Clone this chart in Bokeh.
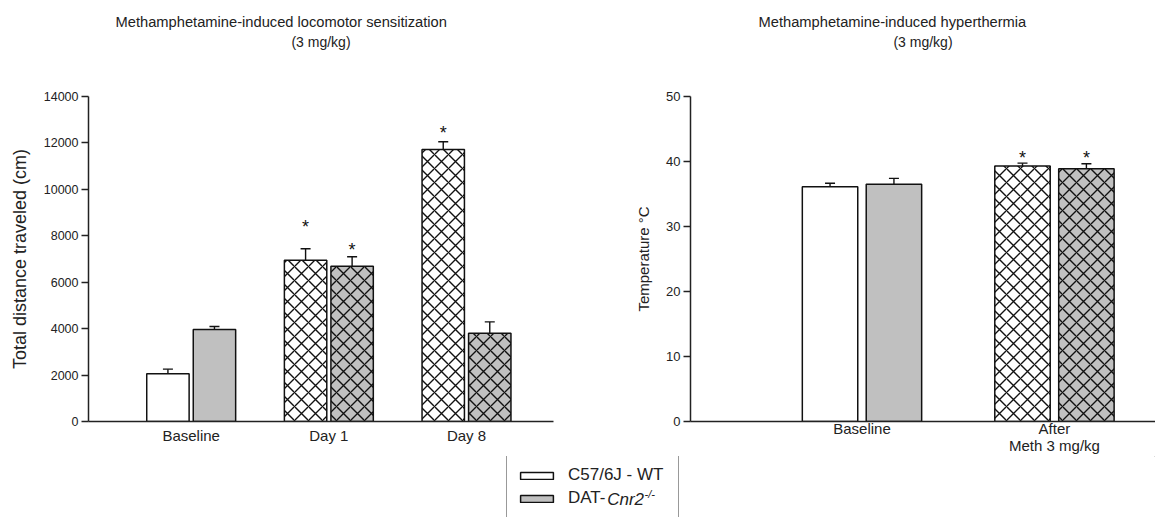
from bokeh.plotting import figure
from bokeh.models import (Range1d, FixedTicker, ColumnDataSource, Whisker, TeeHead,
                          Label, Legend, LegendItem, Title)
from bokeh.layouts import column, row
from bokeh.embed import file_html
from bokeh.resources import INLINE
from bokeh.core.properties import value

FONT = "Liberation Sans"
INK = "#222222"

# ---------------- data: locomotor sensitization ----------------
loco_categories = ["Baseline", "Day 1", "Day 8"]
loco_wt = [2060, 6950, 11720]
loco_wt_sem = [195, 490, 330]
loco_dat = [3960, 6690, 3800]
loco_dat_sem = [130, 405, 490]
loco_meth = [False, True, True]
loco_wt_star = [None, 8550, 12580]
loco_dat_star = [None, 7550, None]
loco_yticks = [0, 2000, 4000, 6000, 8000, 10000, 12000, 14000]

# ---------------- data: hyperthermia ----------------
temp_categories = ["Baseline", "After\nMeth 3 mg/kg"]
temp_wt = [36.1, 39.3]
temp_wt_sem = [0.55, 0.45]
temp_dat = [36.5, 38.9]
temp_dat_sem = [0.9, 0.75]
temp_meth = [False, True]
temp_wt_star = [None, 41.2]
temp_dat_star = [None, 41.2]
temp_yticks = [0, 10, 20, 30, 40, 50]

series_names = ["C57/6J - WT", "DAT-Cnr2-/-"]
series_fill = ["#ffffff", "#c0c0c0"]

PANEL_H = 456


def style_axes(p, tick_font, xlabel_font):
    for ax in p.yaxis:
        ax.major_tick_out = 7
        ax.major_tick_in = 0
        ax.minor_tick_out = 0
        ax.minor_tick_in = 0
        ax.axis_line_color = INK
        ax.axis_line_width = 1.5
        ax.major_tick_line_color = INK
        ax.major_tick_line_width = 1.5
        ax.major_label_text_font = FONT
        ax.major_label_text_font_size = tick_font
        ax.major_label_text_color = INK
        ax.major_label_standoff = 3
        ax.axis_label_text_font = FONT
        ax.axis_label_text_font_style = "normal"
        ax.axis_label_text_color = INK
        ax.axis_label_standoff = 11
    for ax in p.xaxis:
        ax.major_tick_out = 0
        ax.major_tick_in = 0
        ax.minor_tick_out = 0
        ax.minor_tick_in = 0
        ax.axis_line_color = INK
        ax.axis_line_width = 1.5
        ax.major_label_text_font = FONT
        ax.major_label_text_font_size = xlabel_font
        ax.major_label_text_color = INK
    p.xgrid.visible = False
    p.ygrid.visible = False
    p.outline_line_color = None


def make_panel(categories, wt, wt_sem, dat, dat_sem, meth, wt_star, dat_star,
               yticks, ylabel, ylabel_font, tick_font, xr, width, bar_w, dodge,
               min_left, min_right, title, title_offset, subtitle):
    ymax = yticks[-1]
    p = figure(width=width, height=PANEL_H, x_range=Range1d(*xr), y_range=Range1d(0, ymax),
               toolbar_location=None, output_backend="svg", title=None,
               min_border_left=min_left, min_border_right=min_right,
               min_border_top=96, min_border_bottom=PANEL_H - 421)
    pos = [i + 1 for i in range(len(categories))]
    hatch = ["x" if m else " " for m in meth]
    for vals, sems, stars, sign, fill in [(wt, wt_sem, wt_star, -1, series_fill[0]),
                                         (dat, dat_sem, dat_star, 1, series_fill[1])]:
        xs = [c + sign * dodge for c in pos]
        src = ColumnDataSource(dict(x=xs, top=vals, hatch=hatch,
                                    lower=vals, upper=[v + s for v, s in zip(vals, sems)]))
        p.vbar(x="x", top="top", bottom=0, width=bar_w, source=src,
               fill_color=fill, line_color="#111111", line_width=1.5,
               hatch_pattern="hatch", hatch_color="#111111", hatch_scale=14,
               hatch_weight=1.4)
        p.add_layout(Whisker(source=src, base="x", lower="lower", upper="upper",
                             line_color="#111111", line_width=1.4,
                             upper_head=TeeHead(size=10, line_color="#111111", line_width=1.4),
                             lower_head=None))
        sx = [x for x, s in zip(xs, stars) if s is not None]
        sy = [s for s in stars if s is not None]
        if sx:
            p.text(x=sx, y=sy, text=["*"] * len(sx), text_font=value(FONT),
                   text_font_size=value("18px"), text_align="center",
                   text_baseline="alphabetic", y_offset=4, text_color="#111111")
    p.yaxis.ticker = FixedTicker(ticks=yticks)
    p.yaxis.axis_label = ylabel
    p.yaxis.axis_label_text_font_size = ylabel_font
    p.xaxis.ticker = FixedTicker(ticks=pos)
    p.xaxis.major_label_overrides = {c: lab for c, lab in zip(pos, categories)}
    style_axes(p, tick_font, "15px")
    # spacer between frame and titles (closest to the frame)
    p.add_layout(Title(text=" ", text_font=FONT, text_font_size="10px", standoff=33),
                 "above")
    p.add_layout(Title(text=subtitle, align="center", text_font=FONT, text_font_size="14px",
                       text_font_style="normal", text_color=INK, standoff=2), "above")
    p.add_layout(Title(text=title, align="left", offset=title_offset, text_font=FONT,
                       text_font_size="14.7px", text_font_style="normal", text_color=INK,
                       standoff=2), "above")
    return p


p1 = make_panel(loco_categories, loco_wt, loco_wt_sem, loco_dat, loco_dat_sem, loco_meth,
                loco_wt_star, loco_dat_star, loco_yticks, "Total distance traveled (cm)",
                "18px", "12.5px", (0.254, 3.632), 600, 0.308, 0.169, 88, 47,
                "Methamphetamine-induced locomotor sensitization", 27, "(3 mg/kg)")
p1.xaxis.major_label_standoff = 5

p2 = make_panel(temp_categories, temp_wt, temp_wt_sem, temp_dat, temp_dat_sem, temp_meth,
                temp_wt_star, temp_dat_star, temp_yticks, "Temperature °C",
                "15px", "13px", (0.109, 2.525), 555, 0.288, 0.166, 90, 0,
                "Methamphetamine-induced hyperthermia", 68, "(3 mg/kg)")
p2.xaxis.major_label_standoff = -2
p2.xaxis.major_label_text_line_height = 1.0

# ---------------- legend strip ----------------
LEG_H = 517 - PANEL_H
p3 = figure(width=1155, height=LEG_H, x_range=Range1d(0, 1), y_range=Range1d(0, 1),
            x_axis_type=None, y_axis_type=None, toolbar_location=None,
            output_backend="svg", title=None, min_border=0)
p3.outline_line_color = None
# legend proxies (outside the visible range; only their styles are used by the legend)
proxy_wt = p3.vbar(x=[5], top=[5], bottom=[4], width=0.1, fill_color=series_fill[0],
                   line_color="#111111", line_width=1.5)
proxy_dat = p3.vbar(x=[5], top=[5], bottom=[4], width=0.1, fill_color=series_fill[1],
                    line_color="#111111", line_width=1.5)
legend = Legend(items=[LegendItem(label=series_names[0], renderers=[proxy_wt]),
                       LegendItem(label="DAT-", renderers=[proxy_dat])],
                location=(506, LEG_H - 63), orientation="vertical", padding=9, margin=0,
                spacing=1, glyph_width=41, glyph_height=9, label_standoff=11,
                label_width=101, label_height=22, label_text_font=FONT,
                label_text_font_size="17px", label_text_color=INK,
                border_line_color="#333333", border_line_width=1.2,
                background_fill_alpha=0.0)
p3.add_layout(legend)
row2_y = LEG_H - (9 + 22 + 1 + 11)
p3.add_layout(Label(x=606.7, y=row2_y, x_units="screen", y_units="screen", text="Cnr2",
                    text_font=FONT, text_font_size="17px", text_font_style="italic",
                    text_color=INK, text_align="left", text_baseline="middle"))
p3.add_layout(Label(x=644, y=row2_y + 6, x_units="screen", y_units="screen", text="-/-",
                    text_font=FONT, text_font_size="11px", text_font_style="italic",
                    text_color=INK, text_align="left", text_baseline="middle"))

layout = column(row(p1, p2), p3)
open("out.html", "w").write(file_html(layout, INLINE))
